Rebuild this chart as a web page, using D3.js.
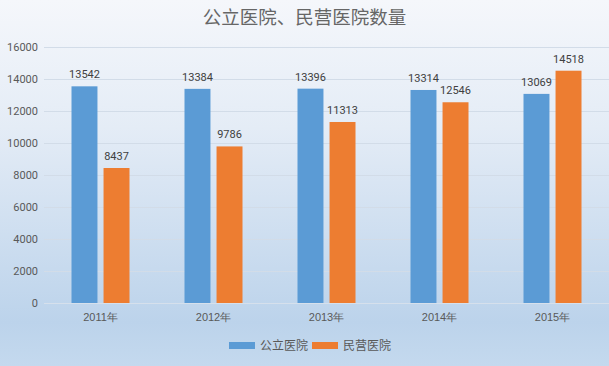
<!DOCTYPE html>
<html>
<head>
<meta charset="utf-8">
<script src="https://cdn.jsdelivr.net/npm/d3@7"></script>
<style>
  body { margin: 0; }
  svg { display: block; font-family: "Microsoft YaHei", "Noto Sans CJK SC", sans-serif; }
</style>
</head>
<body>
<script>
const years = ["2011年", "2012年", "2013年", "2014年", "2015年"];
const seriesNames = ["公立医院", "民营医院"];
const publicHosp = [13542, 13384, 13396, 13314, 13069];
const privateHosp = [8437, 9786, 11313, 12546, 14518];
const yTicks = [0, 2000, 4000, 6000, 8000, 10000, 12000, 14000, 16000];
const colors = ["#5b9bd5", "#ed7d31"];

const width = 609, height = 366;
const margin = { top: 47, right: 0, bottom: 63, left: 44 };

const svg = d3.select("body").append("svg")
  .attr("width", width)
  .attr("height", height);

// background gradient
const grad = svg.append("defs").append("linearGradient")
  .attr("id", "bg").attr("x1", 0).attr("y1", 0).attr("x2", 0).attr("y2", 1);
grad.append("stop").attr("offset", "0%").attr("stop-color", "#f5f7fb");
grad.append("stop").attr("offset", "35%").attr("stop-color", "#e4ecf6");
grad.append("stop").attr("offset", "88%").attr("stop-color", "#bcd3eb");
grad.append("stop").attr("offset", "100%").attr("stop-color", "#c4d9ee");
svg.append("rect").attr("width", width).attr("height", height).attr("fill", "url(#bg)");

const x = d3.scaleBand()
  .domain(years)
  .range([margin.left, width - margin.right]);

const inner = d3.scaleBand()
  .domain(seriesNames)
  .range([0, 58])
  .paddingInner(0.19);

const y = d3.scaleLinear()
  .domain([0, 16000])
  .range([height - margin.bottom, margin.top]);

// gridlines
svg.append("g")
  .selectAll("line")
  .data(yTicks)
  .enter().append("line")
  .attr("x1", margin.left)
  .attr("x2", width - margin.right)
  .attr("y1", d => y(d) + 0.5)
  .attr("y2", d => y(d) + 0.5)
  .attr("stroke", d => d === 0 ? "#d6e0ec" : "#d2dce8")
  .attr("stroke-width", 1);

// y axis labels
const yAxis = svg.append("g")
  .attr("transform", `translate(${margin.left - 6},0)`)
  .call(d3.axisLeft(y).tickValues(yTicks).tickFormat(d3.format("d")).tickSize(0).tickPadding(0));
yAxis.select(".domain").remove();
yAxis.selectAll("text")
  .attr("fill", "#595959")
  .style("font-size", "11px")
  .style("font-family", "Roboto, 'Noto Sans', sans-serif");

// x axis labels
const xAxis = svg.append("g")
  .attr("transform", `translate(0,${height - margin.bottom})`)
  .call(d3.axisBottom(x).tickSize(0).tickPadding(10));
xAxis.select(".domain").remove();
xAxis.selectAll("text")
  .attr("fill", "#595959")
  .style("font-size", "11px");

const series = [publicHosp, privateHosp];

const groups = svg.append("g")
  .selectAll("g")
  .data(years)
  .enter().append("g")
  .attr("transform", d => `translate(${x(d) + (x.bandwidth() - 58) / 2},0)`);

seriesNames.forEach((name, si) => {
  groups.append("rect")
    .attr("x", inner(name))
    .attr("width", inner.bandwidth())
    .attr("y", (d, i) => y(series[si][i]))
    .attr("height", (d, i) => y(0) - y(series[si][i]))
    .attr("fill", colors[si]);

  groups.append("text")
    .attr("x", inner(name) + inner.bandwidth() / 2)
    .attr("y", (d, i) => y(series[si][i]) - 8)
    .attr("text-anchor", "middle")
    .attr("fill", "#404040")
    .style("font-size", "11px")
    .style("font-family", "Roboto, 'Noto Sans', sans-serif")
    .text((d, i) => series[si][i]);
});

// title
svg.append("text")
  .attr("x", width / 2)
  .attr("y", 24)
  .attr("text-anchor", "middle")
  .attr("fill", "#666666")
  .style("font-size", "18.5px")
  .text("公立医院、民营医院数量");

// legend
const legend = svg.append("g")
  .attr("transform", "translate(229,346)");
const legendX = [0, 83];
seriesNames.forEach((name, i) => {
  legend.append("rect")
    .attr("x", legendX[i])
    .attr("y", -4)
    .attr("width", 26)
    .attr("height", 7)
    .attr("fill", colors[i]);
  legend.append("text")
    .attr("x", legendX[i] + 31)
    .attr("y", 4)
    .attr("fill", "#595959")
    .style("font-size", "12px")
    .text(name);
});
</script>
</body>
</html>
